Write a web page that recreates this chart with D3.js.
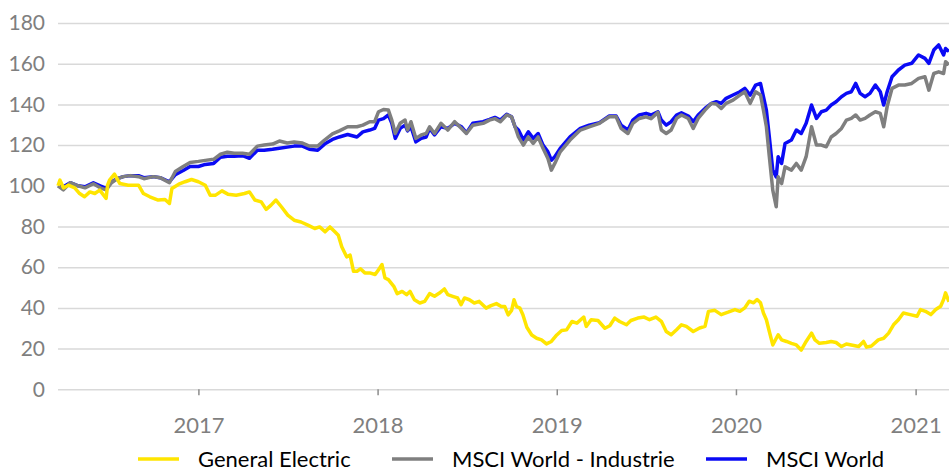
<!DOCTYPE html>
<html lang="de">
<head>
    <meta charset="utf-8">
    <title>GE vs MSCI World</title>
    <script type="text/javascript" src="https://d3js.org/d3.v7.min.js"></script>
    <style>
        html, body {
            margin: 0;
            padding: 0;
            background: white;
        }
        svg text {
            font-family: Lato, "Open Sans", sans-serif;
        }
        .axis-y text {
            font-size: 21px;
            fill: #7f7f7f;
        }
        .axis-x text {
            font-size: 22px;
            fill: #7f7f7f;
        }
        .legend text {
            font-size: 22px;
            fill: #000;
        }
    </style>
</head>
<body>
<div id="chart"></div>
<script type="text/javascript">
// data (index, start = 100)
const msciDates = [
    "2016-03-21","2016-04-01","2016-04-15","2016-05-01","2016-05-15","2016-06-01","2016-06-15","2016-06-27",
    "2016-07-08","2016-07-20","2016-08-01","2016-08-15","2016-09-01","2016-09-12","2016-10-01","2016-10-15",
    "2016-11-03","2016-11-15","2016-12-01","2016-12-15","2017-01-01","2017-01-15","2017-02-01","2017-02-15",
    "2017-03-01","2017-03-15","2017-04-01","2017-04-15","2017-05-01","2017-05-15","2017-06-01","2017-06-15",
    "2017-07-01","2017-07-15","2017-08-01","2017-08-15","2017-09-01","2017-09-15","2017-10-01","2017-10-15",
    "2017-11-01","2017-11-20","2017-12-02","2017-12-16","2017-12-26","2018-01-03","2018-01-13","2018-01-23",
    "2018-01-30","2018-02-06","2018-02-16","2018-02-26","2018-03-03","2018-03-10","2018-03-20","2018-03-31",
    "2018-04-10","2018-04-17","2018-04-27","2018-05-10","2018-05-24","2018-06-07","2018-06-21","2018-07-01",
    "2018-07-14","2018-08-04","2018-08-17","2018-08-28","2018-09-08","2018-09-21","2018-10-01","2018-10-08",
    "2018-10-15","2018-10-25","2018-11-04","2018-11-14","2018-11-24","2018-12-04","2018-12-14","2018-12-21",
    "2018-12-28","2019-01-08","2019-01-28","2019-02-18","2019-03-08","2019-03-29","2019-04-18","2019-05-02",
    "2019-05-12","2019-05-26","2019-06-05","2019-06-18","2019-07-02","2019-07-12","2019-07-26","2019-08-02",
    "2019-08-12","2019-08-22","2019-09-02","2019-09-12","2019-09-26","2019-10-06","2019-10-16","2019-10-30",
    "2019-11-12","2019-11-22","2019-12-02","2019-12-12","2019-12-26","2020-01-09","2020-01-19","2020-01-30",
    "2020-02-10","2020-02-20","2020-02-26","2020-03-03","2020-03-09","2020-03-16","2020-03-23","2020-03-27",
    "2020-04-03","2020-04-10","2020-04-23","2020-05-03","2020-05-13","2020-05-23","2020-06-03","2020-06-13",
    "2020-06-23","2020-07-03","2020-07-13","2020-07-23","2020-08-03","2020-08-13","2020-08-23","2020-09-01",
    "2020-09-10","2020-09-20","2020-09-30","2020-10-11","2020-10-21","2020-10-28","2020-11-04","2020-11-14",
    "2020-11-27","2020-12-10","2020-12-24","2021-01-07","2021-01-20","2021-01-28","2021-02-07","2021-02-17",
    "2021-02-27","2021-03-03","2021-03-10"
];
const industrieValues = [
    100, 98, 101.5, 100, 99, 101, 99, 98,
    101.5, 103.5, 104.5, 105, 104.5, 103.5, 104.5, 104,
    101.5, 107, 109.5, 111.5, 112, 112.5, 113, 115.5,
    116.5, 116, 116, 115.5, 119.5, 120, 120.5, 122,
    121, 121.5, 121, 119.5, 119.5, 122.5, 125.5, 127,
    129, 129, 129.8, 131.5, 131.5, 136.4, 137.5, 137.2,
    132.3, 125.7, 130.7, 132.3, 127.4, 131.5, 123.3, 125,
    125.7, 129, 125.7, 130.7, 127.4, 131.5, 128.2, 125.7,
    129.8, 130.7, 132.3, 133, 131.5, 134.8, 133.9, 129,
    124, 120, 124, 120.8, 124, 118.4, 113.4, 107.7,
    111, 116.7, 122.5, 127.4, 129, 130.7, 133.9, 133.9,
    128.2, 125.7, 130.7, 133.1, 133.9, 133, 136.1, 127.4,
    125.7, 127.4, 133.1, 134.8, 133.1, 128.2, 133.1, 137.2,
    140.5, 140.2, 138, 140.5, 142.1, 144.6, 146.2, 140.5,
    146.2, 144.6, 137.2, 129, 114.3, 97.9, 89.7, 104.4,
    101.1, 109.3, 107.7, 111, 107.7, 114.3, 129, 120,
    120, 119.2, 124, 125.7, 128.2, 132.3, 133.1, 134.8,
    132.3, 133.1, 134.8, 136.4, 135.6, 129, 138.9, 147.9,
    149.5, 149.5, 150.3, 152.8, 153.6, 147, 155.2, 156,
    155.2, 161, 159.5
];
const worldValues = [
    100, 99.5, 101.5, 100, 99.5, 101.5, 100, 98.8,
    102, 103.5, 104.5, 105, 105, 104, 104.5, 104,
    102, 105.5, 107.5, 109.5, 109.5, 110.5, 111, 114,
    114.5, 114.5, 114.8, 113.5, 117.5, 117.5, 118, 118.5,
    119, 119.5, 119.5, 118, 117.5, 120.5, 122.8, 124,
    125.2, 124, 126.5, 127.4, 128.2, 132.3, 133, 134.8,
    130.7, 123.3, 128.2, 129.8, 127, 129, 121.6, 123.3,
    124, 128.2, 125, 129, 128.2, 130.7, 129, 126,
    130.7, 131.5, 132.6, 133.6, 132.3, 135.2, 133.9, 129,
    127.4, 122.5, 126.5, 123.3, 125.7, 120, 116.7, 112.6,
    114.3, 118.4, 124, 128.2, 129.8, 131, 134.3, 134.3,
    129.8, 127.4, 132.3, 134.8, 135.6, 134.8, 136.4, 132.3,
    129.8, 131.5, 134.8, 135.9, 134.3, 131.5, 134.8, 138,
    140.5, 141.3, 140.5, 143, 144.6, 146.2, 147.9, 144.6,
    149.5, 150.3, 143.8, 137.2, 124, 107.7, 104.4, 114.3,
    111, 120.8, 122.5, 127.4, 125.7, 130.7, 139.7, 133.1,
    136.4, 137.2, 139.7, 141.3, 143.8, 145.4, 146.2, 150.3,
    145.4, 143.8, 145.4, 149.5, 146.2, 139.7, 146.2, 153.6,
    156.9, 159.3, 160.2, 164.3, 162.6, 160.2, 166.7, 169.2,
    164.3, 167.5, 166
];

const geDates = [
    "2016-03-21","2016-03-25","2016-04-01","2016-04-11","2016-04-24","2016-05-04","2016-05-14","2016-05-25",
    "2016-06-04","2016-06-14","2016-06-27","2016-06-30","2016-07-04","2016-07-14","2016-07-25","2016-08-11",
    "2016-09-01","2016-09-11","2016-09-24","2016-10-11","2016-10-25","2016-11-03","2016-11-08","2016-11-22",
    "2016-12-05","2016-12-18","2017-01-01","2017-01-15","2017-01-25","2017-02-05","2017-02-18","2017-03-02",
    "2017-03-19","2017-04-05","2017-04-15","2017-04-26","2017-05-09","2017-05-19","2017-05-29","2017-06-08",
    "2017-06-19","2017-07-02","2017-07-15","2017-07-29","2017-08-12","2017-08-26","2017-09-05","2017-09-16",
    "2017-09-26","2017-10-06","2017-10-13","2017-10-20","2017-10-30","2017-11-06","2017-11-13","2017-11-20",
    "2017-11-27","2017-12-06","2017-12-16","2017-12-27","2018-01-03","2018-01-10","2018-01-16","2018-01-23",
    "2018-02-03","2018-02-10","2018-02-20","2018-03-01","2018-03-08","2018-03-17","2018-03-28","2018-04-07",
    "2018-04-17","2018-04-27","2018-05-07","2018-05-17","2018-05-24","2018-06-03","2018-06-13","2018-06-20",
    "2018-06-27","2018-07-07","2018-07-17","2018-07-27","2018-08-10","2018-08-20","2018-08-31","2018-09-10",
    "2018-09-17","2018-09-24","2018-10-01","2018-10-06","2018-10-11","2018-10-18","2018-10-24","2018-11-01",
    "2018-11-11","2018-11-21","2018-12-01","2018-12-11","2018-12-21","2019-01-01","2019-01-11","2019-01-21",
    "2019-02-01","2019-02-11","2019-02-25","2019-03-02","2019-03-12","2019-03-26","2019-04-09","2019-04-19",
    "2019-04-29","2019-05-09","2019-05-23","2019-06-01","2019-06-15","2019-06-28","2019-07-09","2019-07-22",
    "2019-08-02","2019-08-12","2019-08-22","2019-09-02","2019-09-12","2019-09-22","2019-10-06","2019-10-19",
    "2019-10-30","2019-11-06","2019-11-19","2019-12-02","2019-12-16","2019-12-30","2020-01-09","2020-01-19",
    "2020-01-28","2020-02-06","2020-02-13","2020-02-20","2020-02-26","2020-03-03","2020-03-09","2020-03-16",
    "2020-03-27","2020-04-03","2020-04-13","2020-04-23","2020-05-03","2020-05-13","2020-05-23","2020-06-03",
    "2020-06-10","2020-06-19","2020-07-03","2020-07-13","2020-07-23","2020-08-03","2020-08-13","2020-08-23",
    "2020-09-07","2020-09-17","2020-09-23","2020-10-03","2020-10-17","2020-10-28","2020-11-07","2020-11-17",
    "2020-11-27","2020-12-07","2020-12-21","2021-01-04","2021-01-11","2021-01-21","2021-02-01","2021-02-11",
    "2021-02-21","2021-02-27","2021-03-03","2021-03-10"
];
const geValues = [
    100, 102.8, 99, 100.3, 99, 96.2, 94.6, 97,
    96.2, 97.9, 93.8, 100.3, 102.8, 105.7, 101.1, 100.3,
    100.3, 96.2, 94.6, 93, 93.3, 91.3, 98.7, 100.8,
    102, 103.1, 102, 100.3, 95.4, 95.4, 97.5, 95.9,
    95.4, 96.2, 97, 93, 92.1, 88.4, 90.5, 93,
    89.7, 85.6, 83.1, 82.2, 80.7, 79, 79.8, 77.4,
    79.8, 77.4, 75.7, 70, 65.1, 65.9, 58, 58,
    59.2, 57.2, 57.2, 56.4, 58.8, 61.3, 54.7, 53.9,
    50.6, 47, 48.1, 46.5, 48.1, 44, 42.4, 43.2,
    47, 45.7, 47.3, 49.3, 46.5, 45.7, 44.9, 41.6,
    44.9, 44, 42.4, 43.2, 39.9, 41.1, 42.1, 40.7,
    40.7, 36.6, 38.8, 44, 40.7, 39.9, 36.6, 30.5,
    26.7, 25.1, 24.3, 22.3, 23.5, 26.7, 28.9, 29.2,
    33.3, 32.5, 35.5, 30.9, 34.2, 33.8, 30, 31.2,
    35, 33.3, 31.7, 33.8, 35, 35.5, 34.2, 35.5,
    33.4, 28.4, 26.8, 29.3, 31.7, 30.9, 28.4, 30.1,
    30.9, 38.3, 38.8, 36.7, 37.9, 39.2, 38.3, 40,
    43.3, 42.5, 44.1, 42.5, 37.5, 34.2, 28.4, 21.8,
    26.8, 24.3, 23.5, 22.6, 21.8, 19.3, 23.5, 27.6,
    24.3, 22.6, 23, 23.5, 23, 21, 22.3, 21.8,
    21, 23.5, 20.7, 21.3, 24.3, 25.1, 27.6, 31.7,
    34.2, 37.5, 36.7, 35.9, 39.2, 38.3, 36.7, 39.2,
    40.8, 44.1, 47.4, 43
];

const yTicks = [0, 20, 40, 60, 80, 100, 120, 140, 160, 180];
const seriesNames = ["General Electric", "MSCI World - Industrie", "MSCI World"];
const seriesColors = ["#ffe500", "#7f7f7f", "#0a0af5"];

const width = 949;
const height = 472;
const plotLeft = 58;
const plotRight = 949;
const plotTop = 23;
const plotBottom = 389.3;

const parseDate = d3.timeParse("%Y-%m-%d");

const svg = d3.select("#chart")
    .append("svg")
    .attr("width", width)
    .attr("height", height);

const xScale = d3.scaleTime()
    .domain(d3.extent(msciDates.map(parseDate)))
    .range([plotLeft, plotRight]);

const yScale = d3.scaleLinear()
    .domain([0, 180])
    .range([plotBottom, plotTop]);

// gridlines
svg.append("g")
    .attr("transform", `translate(${plotLeft},0)`)
    .call(d3.axisLeft(yScale)
        .tickValues(yTicks)
        .tickSize(-(plotRight - plotLeft))
        .tickFormat(""))
    .call(g => g.select(".domain").remove())
    .call(g => g.selectAll(".tick line")
        .attr("stroke", "#d9d9d9")
        .attr("stroke-width", 1.5));

// y labels
svg.append("g")
    .attr("class", "axis-y")
    .attr("transform", `translate(${plotLeft},0)`)
    .call(d3.axisLeft(yScale)
        .tickValues(yTicks)
        .tickSize(0)
        .tickPadding(13))
    .call(g => g.select(".domain").remove())
    .call(g => g.selectAll("text").attr("font-family", null).attr("font-size", null));

// x axis
svg.append("g")
    .attr("class", "axis-x")
    .attr("transform", `translate(0,${plotBottom})`)
    .call(d3.axisBottom(xScale)
        .ticks(d3.timeYear.every(1))
        .tickFormat(d3.timeFormat("%Y"))
        .tickSize(6)
        .tickPadding(22))
    .call(g => g.select(".domain").remove())
    .call(g => g.selectAll(".tick line").attr("stroke", "#8c8c8c").attr("stroke-width", 1.5))
    .call(g => g.selectAll("text").attr("font-family", null).attr("font-size", null));

// lines
const line = d3.line()
    .x(d => xScale(d.date))
    .y(d => yScale(d.value));

const geData = geDates.map((d, i) => ({date: parseDate(d), value: geValues[i]}));
const industrieData = msciDates.map((d, i) => ({date: parseDate(d), value: industrieValues[i]}));
const worldData = msciDates.map((d, i) => ({date: parseDate(d), value: worldValues[i]}));

const drawOrder = [[worldData, 2], [industrieData, 1], [geData, 0]];
drawOrder.forEach(([data, k]) => {
    svg.append("path")
        .datum(data)
        .attr("fill", "none")
        .attr("stroke", seriesColors[k])
        .attr("stroke-width", 3.5)
        .attr("stroke-linejoin", "round")
        .attr("d", line);
});

// legend
const legendX = [138, 392, 706];
const legend = svg.append("g").attr("class", "legend");
seriesNames.forEach((name, i) => {
    legend.append("line")
        .attr("x1", legendX[i])
        .attr("x2", legendX[i] + 41)
        .attr("y1", 459)
        .attr("y2", 459)
        .attr("stroke", seriesColors[i])
        .attr("stroke-width", 3.5);
    legend.append("text")
        .attr("x", legendX[i] + 60)
        .attr("y", 467)
        .text(name);
});
</script>
</body>
</html>
